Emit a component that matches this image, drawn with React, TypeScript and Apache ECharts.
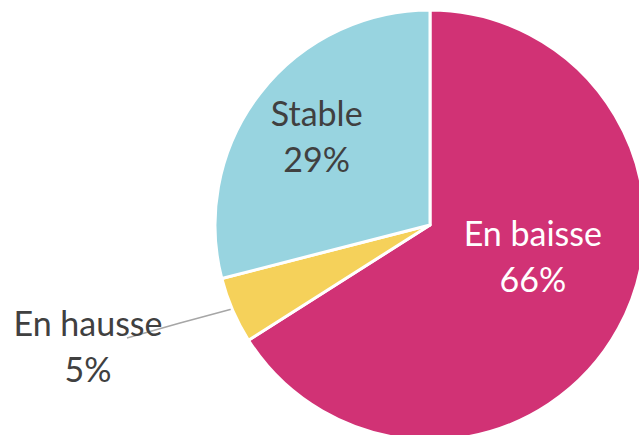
import React, { useEffect, useRef } from "react";
import * as echarts from "echarts";

const categories = ["En baisse", "En hausse", "Stable"];
const values = [66, 5, 29];
const colors = ["#D13275", "#F5D15A", "#98D4E0"];

export default function App() {
  const ref = useRef<HTMLDivElement>(null);
  useEffect(() => {
    if (!ref.current) return;
    const chart = echarts.init(ref.current, null, { renderer: "svg" });
    const labelStyles: any[] = [
      { position: "inside", color: "#FFFFFF", offset: [6, -23] },
      { position: "outside", color: "#404040" },
      { position: "inside", color: "#404040", offset: [-26, -22] },
    ];
    chart.setOption({
      animation: false,
      series: [
        {
          type: "pie",
          center: [430, 225],
          radius: 215,
          startAngle: 90,
          clockwise: true,
          avoidLabelOverlap: false,
          itemStyle: { borderColor: "#FFFFFF", borderWidth: 3 },
          label: {
            formatter: "{b}\n{c}%",
            fontFamily: "Lato",
            fontSize: 34,
            lineHeight: 46,
            align: "center",
          },
          labelLine: {
            show: true,
            length: 20,
            length2: 20,
            lineStyle: { color: "#A6A6A6", width: 1.5 },
          },
          labelLayout: (params: any) => {
            if (params.dataIndex === 1) {
              return {
                x: 88,
                y: 345,
                align: "center",
                verticalAlign: "middle",
                labelLinePoints: [
                  [232, 309],
                  [180, 323],
                  [127, 338],
                ],
              };
            }
            return {};
          },
          data: categories.map((name, i) => ({
            name,
            value: values[i],
            itemStyle: { color: colors[i] },
            label: labelStyles[i],
            labelLine: { show: i === 1 },
          })),
        },
      ],
    });
    return () => chart.dispose();
  }, []);
  return (
    <div
      ref={ref}
      style={{ position: "fixed", left: 0, top: 0, width: 639, height: 435, background: "#FFFFFF" }}
    />
  );
}
